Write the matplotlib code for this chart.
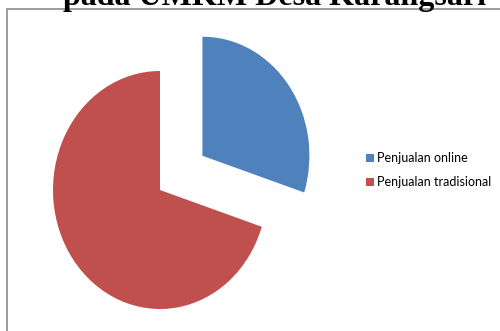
import matplotlib.pyplot as plt
from matplotlib.patches import Rectangle

labels = ['Penjualan online', 'Penjualan tradisional']
values = [30, 70]
colors = ['#4F81BD', '#C0504D']
title = 'pada UMKM Desa Karangsari'

W, H = 500, 331
fig = plt.figure(figsize=(W / 100, H / 100), dpi=100)
ax = fig.add_axes([0, 0, 1, 1])

# the source picture is squeezed sideways: one unit = 107 px across, 119 px down
rx, ry = 107, 119
wedges, _ = ax.pie(values, colors=colors, startangle=90, counterclock=False,
                   explode=[0.49, 0], radius=1, center=(160 / rx, (H - 190) / ry),
                   wedgeprops=dict(linewidth=0))
ax.set_aspect('auto')
ax.set_xlim(0, W / rx)
ax.set_ylim(0, H / ry)
ax.axis('off')

# chart area border (right and bottom lie outside the picture)
fig.patches.append(Rectangle((6.5 / W, -0.1), 1.2, 1.1 - 8.5 / H, fill=False,
                             edgecolor='#8c8c8c', linewidth=1.2,
                             transform=fig.transFigure, figure=fig))

fig.text(275 / W, 1 - 5 / H, title, ha='center', va='baseline', fontsize=23.1,
         fontweight='bold', family='Liberation Serif')

ax.legend(wedges, labels, loc='upper left', bbox_to_anchor=(361 / W, 1 - 147 / H),
          bbox_transform=fig.transFigure, frameon=False,
          prop={'family': 'Lato', 'size': 9},
          handlelength=0.6, handleheight=0.6, handletextpad=0.3,
          labelspacing=1.0, borderaxespad=0)

fig.savefig('out.png', dpi=100)
